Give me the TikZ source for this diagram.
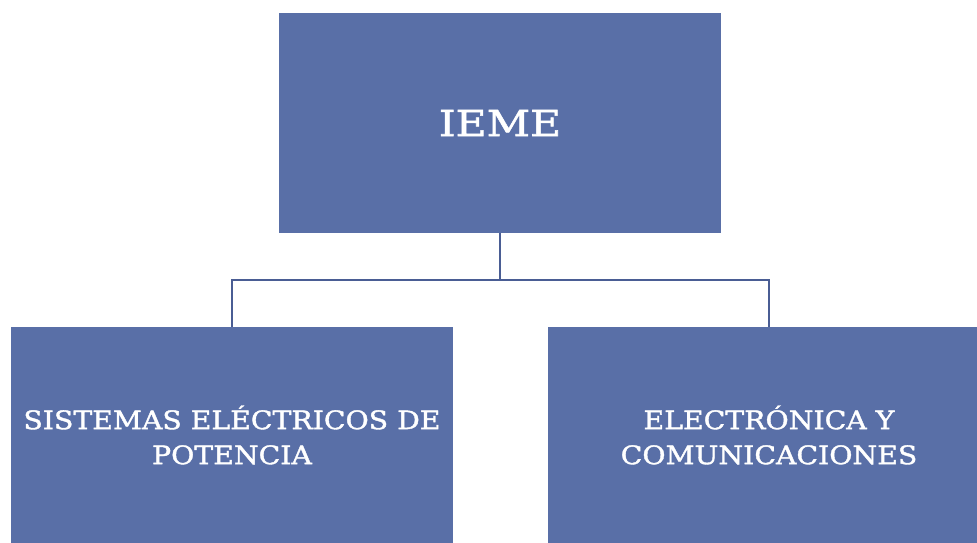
\documentclass[tikz,border=0pt]{standalone}
\usepackage{fontspec}
\usepackage{tikz}
\usetikzlibrary{positioning,calc}
\newfontfamily\boxfont[FakeStretch=1.18,FakeBold=1.5]{DejaVu Serif}
\newfontfamily\unitfont[FakeStretch=1.11,FakeBold=1.5]{DejaVu Serif}
\definecolor{boxblue}{RGB}{89,111,167}
\definecolor{linkblue}{RGB}{74,93,148}

\begin{document}
\begin{tikzpicture}[x=1pt,y=-1pt,semithick]
	\tikzstyle{every node}=[inner sep=0pt,outer sep=0pt]

	\tikzset{unit/.style = {fill=boxblue,text=white,minimum width=442pt,align=center}}
	\tikzset{link/.style = {draw=linkblue,line width=1.4pt}}
	\useasboundingbox (0,0) rectangle (977,543);
	% units
	\node[unit,minimum height=220pt,font=\boxfont\fontsize{36}{40}\selectfont] (IEME) at  (500,123) {IEME};
	\node[unit,minimum height=216pt,font=\unitfont\fontsize{25.5}{35}\selectfont] (SEP) at  (232,435) {SISTEMAS ELÉCTRICOS DE\\POTENCIA};
	\node[unit,minimum height=216pt,font=\unitfont\fontsize{25.5}{35}\selectfont] (EC) at  (769,435) {ELECTRÓNICA Y\\COMUNICACIONES};
	%links
	\coordinate (split) at ($(IEME.south)+(0,47)$);
	\draw[link] (IEME.south) -- (split) -| (SEP.north);
	\draw[link] (split) -| (EC.north);

\end{tikzpicture}
\end{document}
